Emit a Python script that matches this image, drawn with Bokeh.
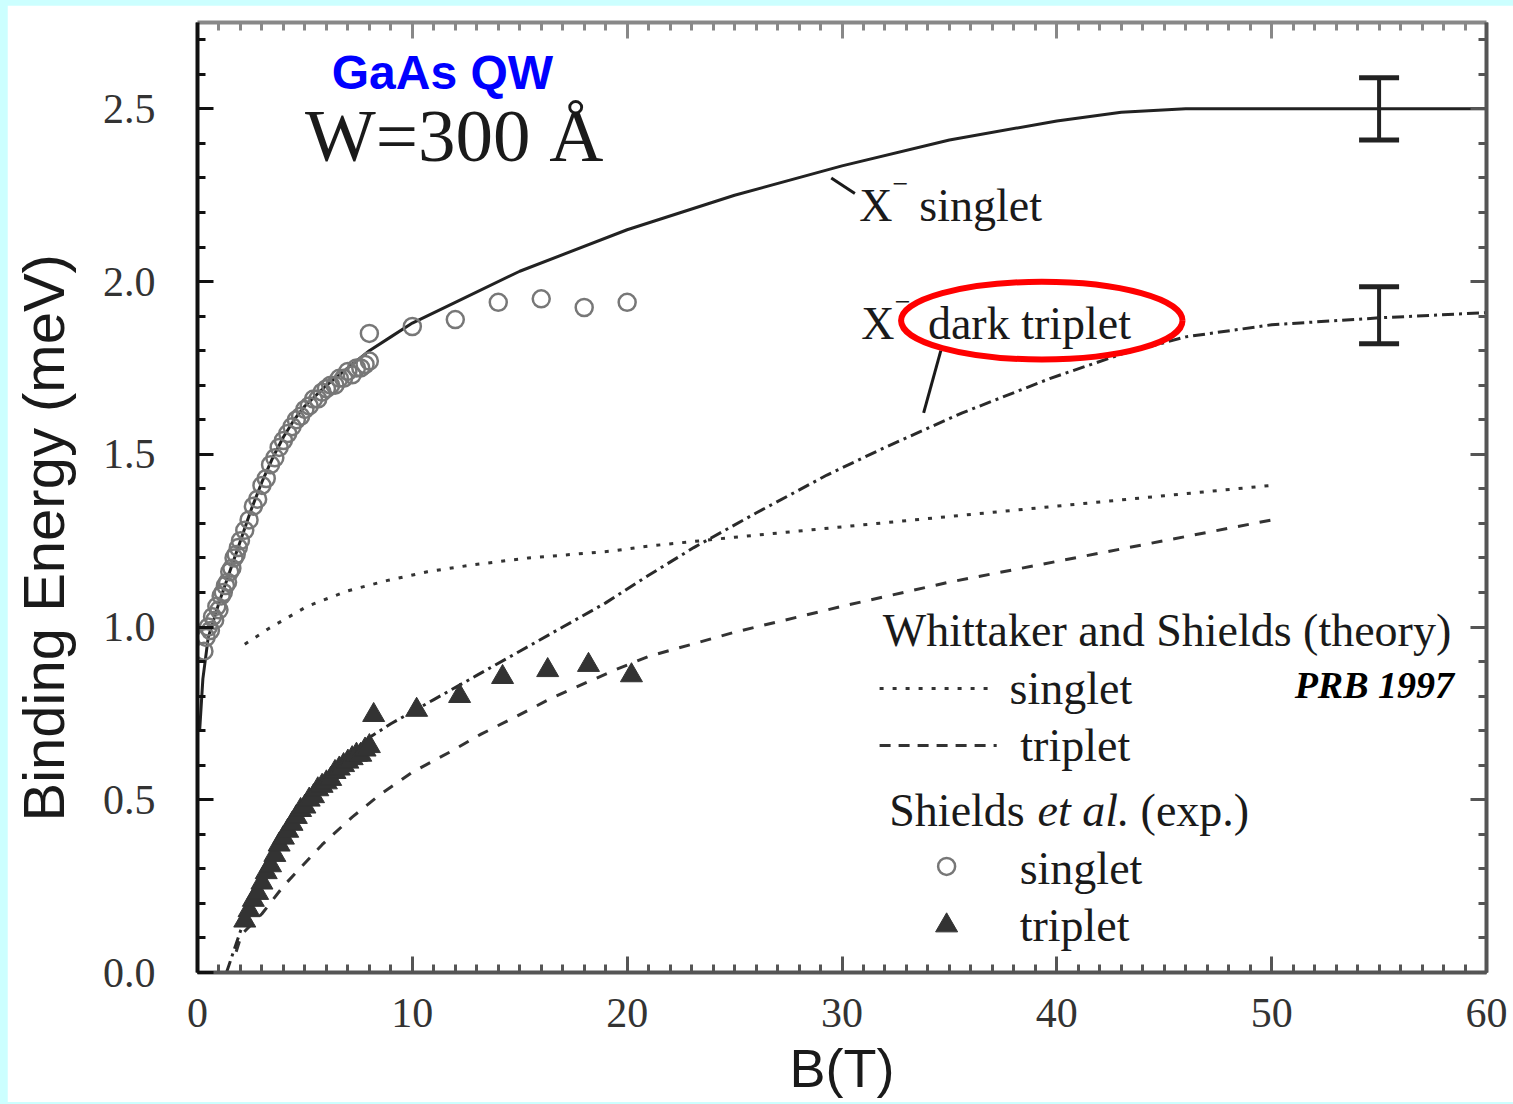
from bokeh.plotting import figure
from bokeh.models import (LinearAxis, SingleIntervalTicker, PrintfTickFormatter,
                          Whisker, TeeHead, ColumnDataSource, Range1d)
from bokeh.core.properties import value
from bokeh.layouts import column
from bokeh.embed import file_html
from bokeh.resources import INLINE

# ---------------- data ----------------
# Theory X- singlet (solid)
sing_th_B = [0.1, 0.25, 0.5, 1.0, 1.5, 2.0, 2.5, 3.0, 3.5, 4.0, 4.5, 5.0, 6.0, 7.0, 8.0,
             9.0, 10.0, 12.0, 15.0, 20.0, 25.0, 30.0, 35.0, 40.0, 43.0, 46.0, 50.0, 60.0]
sing_th_E = [0.70, 0.85, 0.97, 1.07, 1.16, 1.25, 1.34, 1.42, 1.49, 1.55, 1.60, 1.64, 1.70, 1.75, 1.80,
             1.84, 1.88, 1.94, 2.03, 2.15, 2.25, 2.335, 2.41, 2.465, 2.49, 2.50, 2.50, 2.50]

# Theory X- dark triplet (dash-dot)
dark_B = [1.35, 2.0, 3.0, 4.0, 5.0, 6.0, 7.0, 8.0, 9.0, 11.0, 13.0, 15.0, 17.0, 19.0, 21.0,
          23.1, 26.0, 29.3, 32.0, 35.6, 39.7, 43.0, 46.0, 50.0, 55.0, 60.0]
dark_E = [0.0, 0.12, 0.27, 0.39, 0.49, 0.57, 0.63, 0.68, 0.72, 0.79, 0.86, 0.93, 1.00, 1.07, 1.15,
          1.23, 1.33, 1.44, 1.52, 1.62, 1.72, 1.79, 1.84, 1.875, 1.895, 1.91]

# Whittaker and Shields theory: singlet (dotted) and triplet (dashed)
ws_sing_B = [2.2, 3.3, 5.1, 7.0, 8.85, 10.7, 12.8, 15.4, 17.4, 19.3, 21.1, 25.0, 30.0, 35.0, 40.0, 45.0, 50.0]
ws_sing_E = [0.95, 0.995, 1.06, 1.105, 1.135, 1.16, 1.18, 1.20, 1.21, 1.22, 1.235, 1.26, 1.29, 1.32, 1.35, 1.38, 1.41]
ws_trip_B = [1.8, 2.05, 3.0, 4.0, 5.8, 7.2, 8.5, 10.0, 11.8, 13.2, 14.8, 16.5, 19.4, 21.0,
             25.0, 30.0, 35.0, 40.0, 45.0, 50.0]
ws_trip_E = [0.06, 0.11, 0.17, 0.25, 0.37, 0.45, 0.515, 0.58, 0.64, 0.69, 0.74, 0.795, 0.875, 0.915,
             0.985, 1.06, 1.13, 1.19, 1.25, 1.31]

# Shields et al. experiment: singlet (open circles)
exp_sing_B = [0.3, 0.4, 0.5, 0.6, 0.7, 0.8, 0.9, 1.0, 1.1, 1.2, 1.3, 1.4, 1.5, 1.6, 1.7, 1.8, 1.9, 2.0,
              2.2, 2.4, 2.6, 2.8, 3.0, 3.2, 3.4, 3.6, 3.8, 4.0, 4.2, 4.4, 4.6, 4.8, 5.0, 5.2, 5.4,
              5.6, 5.8, 6.0, 6.2, 6.4, 6.6, 6.8, 7.0, 7.2, 7.4, 7.6, 7.8, 8.0,
              8.0, 10.0, 12.0, 14.0, 16.0, 18.0, 20.0]
exp_sing_E = [0.93, 0.97, 1.00, 0.99, 1.03, 1.02, 1.06, 1.05, 1.09, 1.10, 1.12, 1.13, 1.16, 1.17, 1.20,
              1.21, 1.23, 1.25, 1.28, 1.31, 1.35, 1.37, 1.41, 1.43, 1.47, 1.49, 1.52, 1.54, 1.56, 1.58,
              1.60, 1.61, 1.63, 1.64, 1.66, 1.66, 1.68, 1.69, 1.70, 1.70, 1.72, 1.72, 1.74, 1.73, 1.75,
              1.75, 1.76, 1.77,
              1.85, 1.87, 1.89, 1.94, 1.95, 1.925, 1.94]

# Shields et al. experiment: triplet (filled triangles)
exp_trip_B = [2.2, 2.4, 2.6, 2.8, 3.0, 3.2, 3.4, 3.6, 3.8, 4.0, 4.2, 4.4, 4.6, 4.8, 5.0, 5.2, 5.4,
              5.6, 5.8, 6.0, 6.2, 6.4, 6.6, 6.8, 7.0, 7.2, 7.4, 7.6, 7.8, 8.0,
              8.2, 10.2, 12.2, 14.2, 16.3, 18.2, 20.2]
exp_trip_E = [0.15, 0.18, 0.21, 0.23, 0.26, 0.29, 0.31, 0.34, 0.37, 0.39, 0.41, 0.43, 0.45, 0.47,
              0.48, 0.50, 0.51, 0.53, 0.54, 0.55, 0.56, 0.58, 0.59, 0.60, 0.61, 0.62, 0.63, 0.63,
              0.645, 0.655,
              0.745, 0.76, 0.80, 0.855, 0.875, 0.89, 0.86]

# Error bars at B = 55 T
err_B = [55.0, 55.0]
err_upper = [2.59, 1.985]
err_lower = [2.41, 1.82]

x_label = "B(T)"
y_label = "Binding Energy (meV)"

SERIF = "Liberation Serif"
SANS = "Liberation Sans"
INK = "#1a1a1a"

# ---------------- figure ----------------
p = figure(frame_width=1289, frame_height=950,
           x_range=Range1d(0, 60), y_range=Range1d(0, 2.75),
           output_backend="svg", toolbar_location=None,
           min_border_left=186, min_border_right=31, min_border_top=17, min_border_bottom=130,
           x_axis_label=x_label, y_axis_label=y_label + "\u00a0" * 5)
p.margin = (5, 0, 0, 7)
p.background_fill_color = "white"
p.border_fill_color = "white"
p.outline_line_color = None
p.xgrid.visible = False
p.ygrid.visible = False

xt = SingleIntervalTicker(interval=10, num_minor_ticks=10)
yt = SingleIntervalTicker(interval=0.5, num_minor_ticks=5)

def style_axis(ax, color, lw):
    ax.axis_line_color = color
    ax.axis_line_width = lw
    ax.major_tick_line_color = color
    ax.minor_tick_line_color = color
    ax.major_tick_line_width = 3
    ax.minor_tick_line_width = 3
    ax.major_tick_in = 16
    ax.major_tick_out = 0
    ax.minor_tick_in = 8
    ax.minor_tick_out = 0

xa = p.xaxis[0]
xa.ticker = xt
xa.formatter = PrintfTickFormatter(format="%d")
style_axis(xa, "#555555", 4)
xa.major_label_text_font = SERIF
xa.major_label_text_font_size = "42px"
xa.major_label_text_color = "#333333"
xa.major_label_standoff = 26
xa.axis_label_text_font = SANS
xa.axis_label_text_font_style = "normal"
xa.axis_label_text_font_size = "54px"
xa.axis_label_text_color = INK
xa.axis_label_standoff = 8

ya = p.yaxis[0]
ya.ticker = yt
ya.formatter = PrintfTickFormatter(format="%.1f")
style_axis(ya, "#111111", 4)
ya.major_label_text_font = SERIF
ya.major_label_text_font_size = "42px"
ya.major_label_text_color = "#333333"
ya.major_label_standoff = 42
ya.axis_label_text_font = SANS
ya.axis_label_text_font_style = "normal"
ya.axis_label_text_font_size = "58px"
ya.axis_label_text_color = INK
ya.axis_label_standoff = 24

top = LinearAxis(ticker=SingleIntervalTicker(interval=10, num_minor_ticks=10),
                 major_label_text_alpha=0, major_label_text_font_size="1px", major_label_standoff=0)
style_axis(top, "#888888", 4)
p.add_layout(top, "above")
right = LinearAxis(ticker=SingleIntervalTicker(interval=0.5, num_minor_ticks=5),
                   major_label_text_alpha=0, major_label_text_font_size="1px", major_label_standoff=0)
style_axis(right, "#555555", 4)
p.add_layout(right, "right")

# ---------------- curves ----------------
p.line(ws_sing_B, ws_sing_E, line_color="#333333", line_width=3, line_dash="4 9")
p.line(ws_trip_B, ws_trip_E, line_color="#333333", line_width=3, line_dash="11 11")
p.line(dark_B, dark_E, line_color="#2a2a2a", line_width=3, line_dash="12 5 3 5")
p.line(sing_th_B, sing_th_E, line_color="#222222", line_width=3)

p.scatter(exp_sing_B, exp_sing_E, marker="circle", size=17, fill_color=None,
          line_color="#777777", line_width=2.5)
p.scatter(exp_trip_B, exp_trip_E, marker="triangle", size=22, fill_color="#333333",
          line_color="#333333")

err_src = ColumnDataSource(dict(base=err_B, upper=err_upper, lower=err_lower))
p.add_layout(Whisker(base="base", upper="upper", lower="lower", source=err_src,
                     dimension="height", line_width=4, line_color="#222222",
                     upper_head=TeeHead(size=40, line_width=5, line_color="#222222"),
                     lower_head=TeeHead(size=40, line_width=5, line_color="#222222")))

# ---------------- annotations ----------------
def serif_text(x, y, s, size="46px", style="normal", color=INK):
    p.text(x=[x], y=[y], text=[s], text_font=value(SERIF), text_font_style=style,
           text_font_size=size, text_color=color, text_align="left", text_baseline="alphabetic")

p.text(x=[11.4], y=[2.604], text=["GaAs QW"], text_font=value(SANS), text_font_style="bold",
       text_font_size="48px", text_color="#0000ff", text_align="center", text_baseline="middle")
serif_text(5.0, 2.422, "W=300 Å", size="75px")

# X- singlet label with pointer
p.line([29.5, 30.6], [2.30, 2.255], line_color=INK, line_width=3)
serif_text(30.8, 2.220, "X")
serif_text(32.35, 2.282, "\u2212", size="28px")
serif_text(33.6, 2.220, "singlet")

# X- dark triplet label with pointer and red ellipse
p.line([34.6, 33.8], [1.80, 1.62], line_color=INK, line_width=3)
serif_text(30.9, 1.879, "X")
serif_text(32.45, 1.941, "\u2212", size="28px")
serif_text(34.0, 1.879, "dark triplet")
p.ellipse(x=[39.3], y=[1.887], width=13.1, height=0.225, fill_color=None,
          line_color="#ff0000", line_width=6)

# Legend block
serif_text(31.9, 0.990, "Whittaker and Shields (theory)")
p.line([31.75, 36.9], [0.822, 0.822], line_color="#333333", line_width=3, line_dash="4 9")
serif_text(37.8, 0.822, "singlet")
p.line([31.75, 37.2], [0.657, 0.657], line_color="#333333", line_width=3, line_dash="11 8")
serif_text(38.3, 0.657, "triplet")
serif_text(32.2, 0.469, "Shields")
serif_text(39.1, 0.469, "et al.", style="italic")
serif_text(43.9, 0.469, "(exp.)")
p.scatter([34.87], [0.307], marker="circle", size=17, fill_color=None,
          line_color="#777777", line_width=2.5)
serif_text(38.27, 0.302, "singlet")
p.scatter([34.87], [0.136], marker="triangle", size=22, fill_color="#333333", line_color="#333333")
serif_text(38.27, 0.137, "triplet")
serif_text(51.07, 0.832, "PRB 1997", size="38px", style="bold italic", color="#000000")

layout = column(p, styles={"background-color": "#ccffff"})

html = file_html(layout, INLINE)
html = html.replace("<head>", "<head><style>html,body{margin:0;overflow:hidden;background:#ccffff;}</style>", 1)
open("out.html", "w").write(html)
